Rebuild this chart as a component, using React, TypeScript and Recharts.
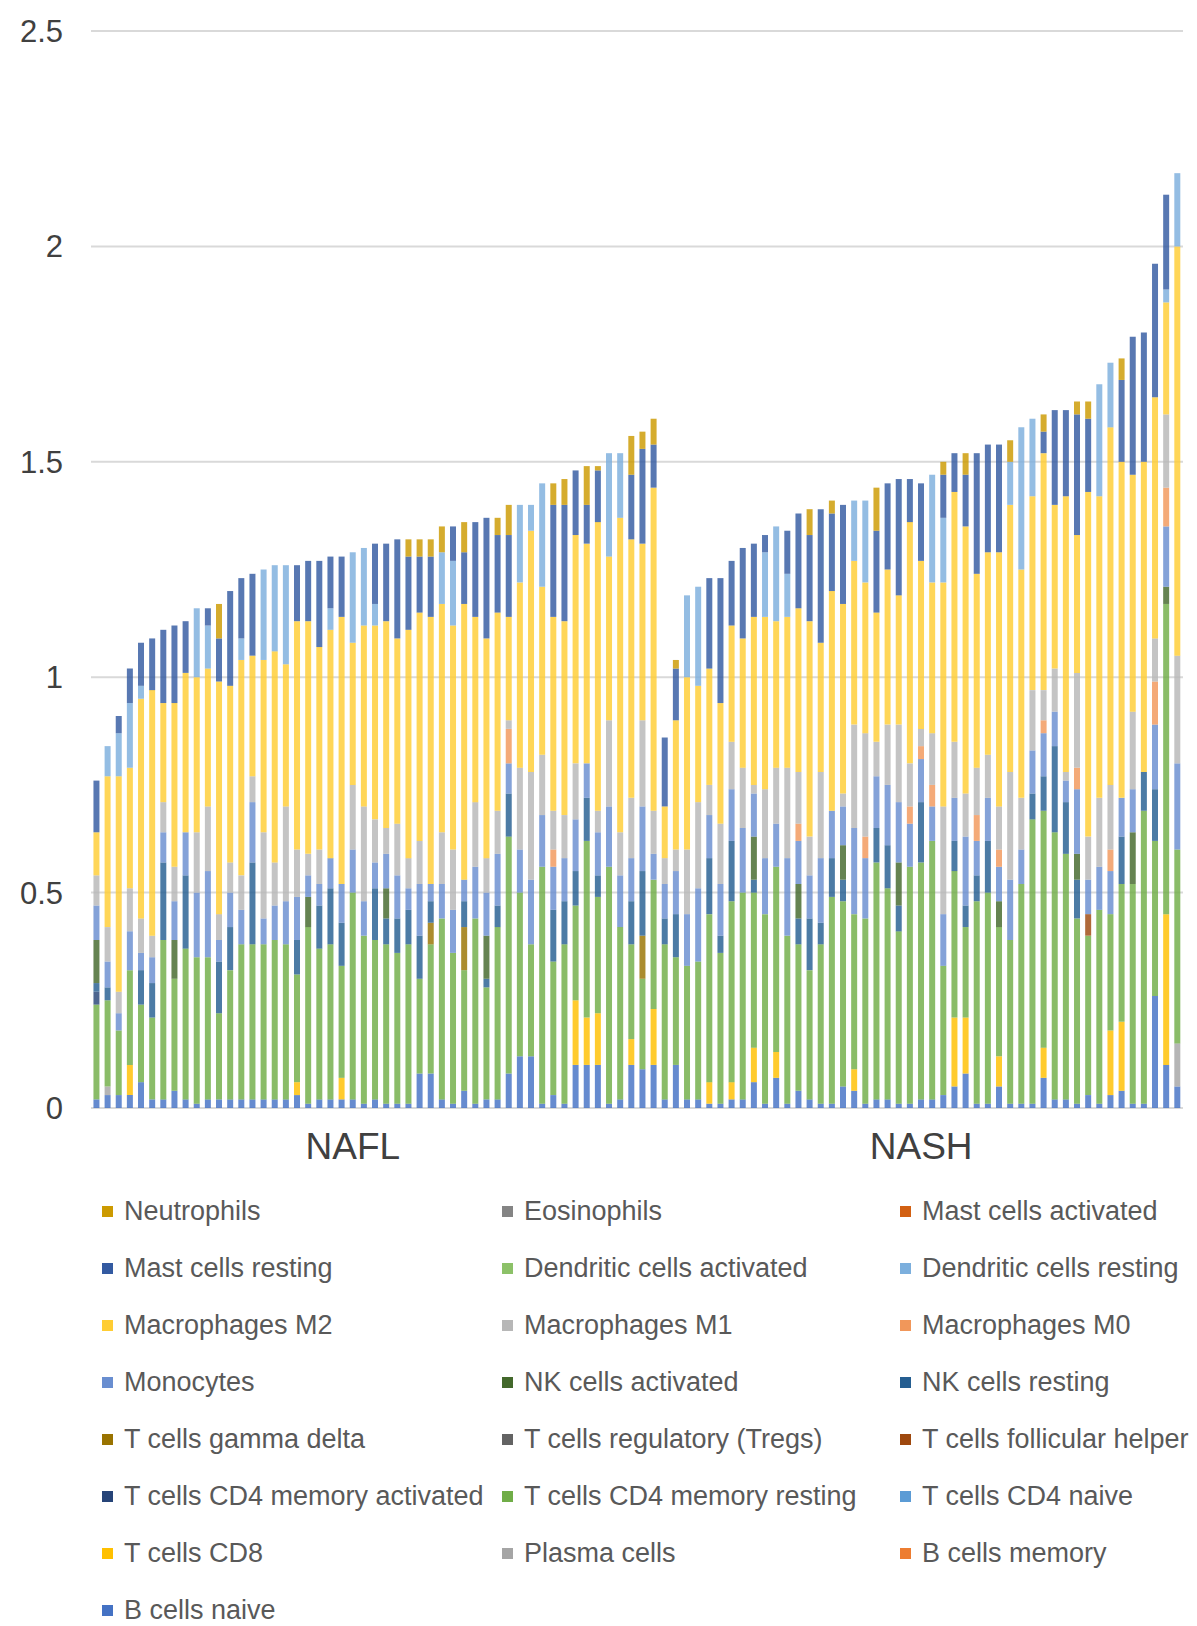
import { BarChart, Bar, XAxis, YAxis, CartesianGrid } from "recharts";

// samples: 51 NAFL then 47 NASH, each bar is one sample
const groupNames = ["NAFL", "NASH"];
const groupSizes = [51, 47];
// sample under which each group name is printed
const groupLabelAt = ["NAFL 24", "NASH 24"];
const yTicks = [0, 0.5, 1, 1.5, 2, 2.5];

// cell fractions per sample
const bCellsNaive = [
  0.02, 0.03, 0.03, 0.03, 0.06, 0.02, 0.02, 0.04, 0.02, 0.01,
  0.02, 0.02, 0.02, 0.02, 0.02, 0.02, 0.02, 0.02, 0.03, 0.01,
  0.02, 0.02, 0.02, 0.02, 0.01, 0.02, 0.01, 0.01, 0.01, 0.08,
  0.08, 0.02, 0.01, 0.04, 0.01, 0.02, 0.02, 0.08, 0.12, 0.12,
  0.01, 0.03, 0.01, 0.1, 0.1, 0.1, 0.01, 0.02, 0.1, 0.09,
  0.1, 0.02, 0.1, 0.02, 0.02, 0.01, 0.01, 0.02, 0.02, 0.06,
  0.01, 0.07, 0.01, 0.04, 0.02, 0.01, 0.01, 0.05, 0.04, 0.01,
  0.02, 0.02, 0.01, 0.01, 0.02, 0.02, 0.03, 0.05, 0.08, 0.01,
  0.01, 0.05, 0.01, 0.01, 0.01, 0.07, 0.02, 0.02, 0.01, 0.03,
  0.01, 0.03, 0.04, 0.01, 0.01, 0.26, 0.1, 0.05,
];
const bCellsMemory = [
  0, 0, 0, 0, 0, 0, 0, 0, 0, 0,
  0, 0, 0, 0, 0, 0, 0, 0, 0, 0,
  0, 0, 0, 0, 0, 0, 0, 0, 0, 0,
  0, 0, 0, 0, 0, 0, 0, 0, 0, 0,
  0, 0, 0, 0, 0, 0, 0, 0, 0, 0,
  0, 0, 0, 0, 0, 0, 0, 0, 0, 0,
  0, 0, 0, 0, 0, 0, 0, 0, 0, 0,
  0, 0, 0, 0, 0, 0, 0, 0, 0, 0,
  0, 0, 0, 0, 0, 0, 0, 0, 0, 0,
  0, 0, 0, 0, 0, 0, 0, 0,
];
const plasmaCells = [
  0, 0.02, 0, 0, 0, 0, 0, 0, 0, 0,
  0, 0, 0, 0, 0, 0, 0, 0, 0, 0,
  0, 0, 0, 0, 0, 0, 0, 0, 0, 0,
  0, 0, 0, 0, 0, 0, 0, 0, 0, 0,
  0, 0, 0, 0, 0, 0, 0, 0, 0, 0,
  0, 0, 0, 0, 0, 0, 0, 0, 0, 0,
  0, 0, 0, 0, 0, 0, 0, 0, 0, 0,
  0, 0, 0, 0, 0, 0, 0, 0, 0, 0,
  0, 0, 0, 0, 0, 0, 0, 0, 0, 0,
  0, 0, 0, 0, 0, 0, 0, 0.1,
];
const tCellsCD8 = [
  0, 0, 0, 0.07, 0, 0, 0, 0, 0, 0,
  0, 0, 0, 0, 0, 0, 0, 0, 0.03, 0,
  0, 0, 0.05, 0, 0, 0, 0, 0, 0, 0,
  0, 0, 0, 0, 0, 0, 0, 0, 0, 0,
  0, 0, 0, 0.15, 0.11, 0.12, 0, 0, 0.06, 0,
  0.13, 0, 0, 0, 0, 0.05, 0, 0.04, 0, 0.08,
  0, 0.06, 0, 0, 0, 0, 0, 0, 0.05, 0,
  0, 0, 0, 0, 0, 0, 0, 0.16, 0.13, 0,
  0, 0.07, 0, 0, 0, 0.07, 0, 0, 0, 0,
  0, 0.15, 0.16, 0, 0, 0, 0.35, 0,
];
const tCellsCD4Naive = [
  0, 0, 0, 0, 0, 0, 0, 0, 0, 0,
  0, 0, 0, 0, 0, 0, 0, 0, 0, 0,
  0, 0, 0, 0, 0, 0, 0, 0, 0, 0,
  0, 0, 0, 0, 0, 0, 0, 0, 0, 0,
  0, 0, 0, 0, 0, 0, 0, 0, 0, 0,
  0, 0, 0, 0, 0, 0, 0, 0, 0, 0,
  0, 0, 0, 0, 0, 0, 0, 0, 0, 0,
  0, 0, 0, 0, 0, 0, 0, 0, 0, 0,
  0, 0, 0, 0, 0, 0, 0, 0, 0, 0,
  0, 0, 0, 0, 0, 0, 0, 0,
];
const tCellsCD4MemResting = [
  0.22, 0.2, 0.15, 0.22, 0.18, 0.19, 0.37, 0.26, 0.35, 0.34,
  0.33, 0.2, 0.3, 0.36, 0.36, 0.36, 0.37, 0.36, 0.25, 0.41,
  0.35, 0.36, 0.26, 0.48, 0.39, 0.37, 0.37, 0.35, 0.37, 0.22,
  0.3, 0.42, 0.35, 0.28, 0.43, 0.26, 0.4, 0.55, 0.38, 0.26,
  0.55, 0.31, 0.37, 0.22, 0.41, 0.27, 0.55, 0.4, 0.22, 0.21,
  0.3, 0.36, 0.25, 0.31, 0.32, 0.39, 0.35, 0.42, 0.48, 0.36,
  0.44, 0.43, 0.39, 0.34, 0.3, 0.37, 0.48, 0.43, 0.36, 0.43,
  0.55, 0.49, 0.4, 0.55, 0.55, 0.6, 0.3, 0.34, 0.21, 0.47,
  0.49, 0.3, 0.38, 0.51, 0.66, 0.55, 0.62, 0.57, 0.43, 0.37,
  0.45, 0.27, 0.32, 0.51, 0.68, 0.36, 0.72, 0.45,
];
const tCellsCD4MemActivated = [
  0.03, 0, 0, 0, 0, 0, 0, 0, 0, 0,
  0, 0, 0, 0, 0, 0, 0, 0, 0, 0,
  0, 0, 0, 0, 0, 0, 0, 0, 0, 0,
  0, 0, 0, 0, 0, 0, 0, 0, 0, 0,
  0, 0, 0, 0, 0, 0, 0, 0, 0, 0,
  0, 0, 0, 0, 0, 0, 0, 0, 0, 0,
  0, 0, 0, 0, 0, 0, 0, 0, 0, 0,
  0, 0, 0, 0, 0, 0, 0, 0, 0, 0,
  0, 0, 0, 0, 0, 0, 0, 0, 0, 0,
  0, 0, 0, 0, 0, 0, 0, 0,
];
const tCellsFollicular = [
  0, 0, 0, 0, 0, 0, 0, 0, 0, 0,
  0, 0, 0, 0, 0, 0, 0, 0, 0, 0,
  0, 0, 0, 0, 0, 0, 0, 0, 0, 0,
  0, 0, 0, 0, 0, 0, 0, 0, 0, 0,
  0, 0, 0, 0, 0, 0, 0, 0, 0, 0,
  0, 0, 0, 0, 0, 0, 0, 0, 0, 0,
  0, 0, 0, 0, 0, 0, 0, 0, 0, 0,
  0, 0, 0, 0, 0, 0, 0, 0, 0, 0,
  0, 0, 0, 0, 0, 0, 0, 0, 0, 0.05,
  0, 0, 0, 0, 0, 0, 0, 0,
];
const tCellsTregs = [
  0, 0, 0, 0, 0, 0, 0, 0, 0, 0,
  0, 0, 0, 0, 0, 0, 0, 0, 0, 0,
  0, 0, 0, 0, 0, 0, 0, 0, 0, 0,
  0, 0, 0, 0, 0, 0, 0, 0, 0, 0,
  0, 0, 0, 0, 0, 0, 0, 0, 0, 0,
  0, 0, 0, 0, 0, 0, 0, 0, 0, 0,
  0, 0, 0, 0, 0, 0, 0, 0, 0, 0,
  0, 0, 0, 0, 0, 0, 0, 0, 0, 0,
  0, 0, 0, 0, 0, 0, 0, 0, 0, 0,
  0, 0, 0, 0, 0, 0, 0, 0,
];
const tCellsGammaDelta = [
  0, 0, 0, 0, 0, 0, 0, 0, 0, 0,
  0, 0, 0, 0, 0, 0, 0, 0, 0, 0,
  0, 0, 0, 0, 0, 0, 0, 0, 0, 0,
  0.05, 0, 0, 0.1, 0, 0, 0, 0, 0, 0,
  0, 0, 0, 0, 0, 0, 0, 0, 0, 0.1,
  0, 0, 0, 0, 0, 0, 0, 0, 0, 0,
  0, 0, 0, 0, 0, 0, 0, 0, 0, 0,
  0, 0, 0, 0, 0, 0, 0, 0, 0, 0,
  0, 0, 0, 0, 0, 0, 0, 0, 0, 0,
  0, 0, 0, 0, 0, 0, 0, 0,
];
const nkResting = [
  0.02, 0.03, 0, 0, 0.08, 0.08, 0.18, 0, 0.17, 0,
  0, 0.12, 0.1, 0, 0.19, 0, 0, 0, 0.08, 0,
  0.1, 0.13, 0.1, 0, 0, 0.12, 0.06, 0.08, 0.08, 0.1,
  0.05, 0, 0, 0.06, 0, 0.02, 0.05, 0.1, 0, 0,
  0, 0.12, 0.1, 0.08, 0.1, 0.05, 0, 0, 0.1, 0.15,
  0, 0.06, 0.1, 0, 0, 0.13, 0.04, 0.14, 0, 0.03,
  0, 0, 0, 0.06, 0.12, 0.05, 0.09, 0.05, 0, 0,
  0.08, 0.1, 0.06, 0, 0.14, 0, 0, 0.07, 0.05, 0.06,
  0.12, 0, 0, 0, 0.06, 0.08, 0.2, 0.12, 0.09, 0,
  0, 0, 0.11, 0, 0.09, 0.12, 0, 0,
];
const nkActivated = [
  0.1, 0, 0, 0, 0, 0, 0, 0.09, 0, 0,
  0, 0, 0, 0, 0, 0, 0, 0, 0, 0.07,
  0, 0, 0, 0, 0, 0, 0.07, 0, 0, 0,
  0, 0, 0, 0, 0, 0.1, 0, 0, 0, 0,
  0, 0, 0, 0, 0, 0, 0, 0, 0, 0,
  0, 0, 0, 0, 0, 0, 0, 0, 0, 0.1,
  0, 0, 0, 0.08, 0, 0, 0, 0.08, 0, 0,
  0, 0, 0.1, 0, 0, 0, 0, 0, 0, 0,
  0, 0.06, 0, 0, 0, 0, 0, 0, 0.06, 0,
  0, 0, 0, 0.12, 0, 0, 0.04, 0,
];
const monocytes = [
  0.08, 0.06, 0.04, 0.09, 0.04, 0.06, 0.07, 0.09, 0.1, 0.15,
  0.2, 0.05, 0.08, 0.08, 0.14, 0.06, 0.08, 0.1, 0.1, 0.05,
  0.05, 0.07, 0.09, 0.1, 0.08, 0.06, 0.08, 0.1, 0.05, 0.12,
  0.04, 0.08, 0.1, 0.05, 0.12, 0.1, 0.12, 0.07, 0.1, 0.15,
  0.12, 0.1, 0.1, 0.12, 0.08, 0.1, 0.14, 0.12, 0.1, 0.15,
  0.06, 0.08, 0.1, 0.12, 0.17, 0.1, 0.12, 0.12, 0.15, 0.1,
  0.13, 0.1, 0.18, 0.1, 0.1, 0.15, 0.11, 0.09, 0.2, 0.14,
  0.12, 0.14, 0.14, 0.1, 0.1, 0.08, 0.12, 0.1, 0.16, 0.08,
  0.1, 0.08, 0.14, 0.08, 0.1, 0.1, 0.08, 0.05, 0.15, 0.08,
  0.1, 0.1, 0.09, 0.1, 0, 0.15, 0.14, 0.2,
];
const macrophagesM0 = [
  0, 0, 0, 0, 0, 0, 0, 0, 0, 0,
  0, 0, 0, 0, 0, 0, 0, 0, 0, 0,
  0, 0, 0, 0, 0, 0, 0, 0, 0, 0,
  0, 0, 0, 0, 0, 0, 0, 0.08, 0, 0,
  0, 0.04, 0, 0, 0, 0, 0, 0, 0, 0,
  0, 0, 0, 0, 0, 0, 0, 0, 0, 0,
  0, 0, 0, 0.04, 0, 0, 0, 0, 0, 0.05,
  0, 0, 0, 0.04, 0.03, 0.05, 0, 0, 0, 0.06,
  0, 0.04, 0, 0, 0, 0.03, 0, 0, 0.05, 0,
  0, 0.05, 0, 0, 0, 0.1, 0.09, 0,
];
const macrophagesM1 = [
  0.07, 0.08, 0.05, 0.1, 0.08, 0.05, 0.07, 0.08, 0, 0.14,
  0.15, 0.06, 0.07, 0.08, 0.06, 0.2, 0.1, 0.22, 0.11, 0.05,
  0.08, 0, 0, 0.15, 0.22, 0.1, 0.06, 0.12, 0.07, 0.1,
  0, 0.12, 0.14, 0, 0.15, 0.08, 0.1, 0.02, 0.19, 0.25,
  0.14, 0.09, 0.1, 0.13, 0, 0.05, 0.2, 0.1, 0.14, 0.2,
  0.1, 0.06, 0.05, 0.15, 0.2, 0.07, 0.14, 0.11, 0.14, 0.02,
  0.16, 0.13, 0.21, 0.12, 0.09, 0.2, 0, 0.03, 0.24, 0.24,
  0.08, 0.14, 0.18, 0.1, 0.04, 0.12, 0.25, 0.13, 0.1, 0.11,
  0.1, 0.1, 0.25, 0.12, 0.14, 0.07, 0.1, 0.02, 0.22, 0.1,
  0.16, 0.15, 0, 0.18, 0, 0.1, 0.17, 0.25,
];
const macrophagesM2 = [
  0.1, 0.35, 0.5, 0.28, 0.51, 0.57, 0.23, 0.38, 0.37, 0.36,
  0.32, 0.54, 0.41, 0.5, 0.28, 0.4, 0.49, 0.33, 0.53, 0.54,
  0.47, 0.53, 0.62, 0.33, 0.42, 0.45, 0.48, 0.43, 0.53, 0.53,
  0.62, 0.53, 0.52, 0.64, 0.43, 0.51, 0.46, 0.24, 0.43, 0.56,
  0.39, 0.45, 0.45, 0.53, 0.51, 0.67, 0.38, 0.73, 0.6, 0.41,
  0.75, 0.12, 0.3, 0.4, 0.27, 0.27, 0.28, 0.27, 0.3, 0.39,
  0.4, 0.34, 0.35, 0.38, 0.5, 0.3, 0.51, 0.44, 0.38, 0.35,
  0.3, 0.36, 0.3, 0.56, 0.39, 0.35, 0.52, 0.58, 0.62, 0.45,
  0.47, 0.59, 0.62, 0.53, 0.45, 0.55, 0.38, 0.64, 0.32, 0.8,
  0.7, 0.83, 0.78, 0.55, 0.72, 0.56, 0.26, 0.95,
];
const dendriticResting = [
  0, 0.07, 0.1, 0.15, 0.03, 0, 0, 0, 0, 0.16,
  0.1, 0, 0, 0.05, 0, 0.21, 0.2, 0.23, 0, 0,
  0, 0.05, 0, 0.21, 0.18, 0.05, 0, 0, 0, 0,
  0, 0.12, 0.15, 0, 0, 0, 0, 0, 0.18, 0.06,
  0.24, 0, 0, 0, 0, 0, 0.24, 0.15, 0, 0,
  0, 0, 0, 0.19, 0.23, 0, 0, 0, 0, 0,
  0.15, 0.22, 0.1, 0, 0, 0, 0, 0, 0.14, 0.19,
  0, 0, 0, 0, 0, 0.25, 0.15, 0, 0, 0,
  0, 0, 0.1, 0.33, 0.18, 0, 0, 0, 0, 0,
  0.26, 0.15, 0, 0, 0, 0, 0.03, 0.17,
];
const dendriticActivated = [
  0, 0, 0, 0, 0, 0, 0, 0, 0, 0,
  0, 0, 0, 0, 0, 0, 0, 0, 0, 0,
  0, 0, 0, 0, 0, 0, 0, 0, 0, 0,
  0, 0, 0, 0, 0, 0, 0, 0, 0, 0,
  0, 0, 0, 0, 0, 0, 0, 0, 0, 0,
  0, 0, 0, 0, 0, 0, 0, 0, 0, 0,
  0, 0, 0, 0, 0, 0, 0, 0, 0, 0,
  0, 0, 0, 0, 0, 0, 0, 0, 0, 0,
  0, 0, 0, 0, 0, 0, 0, 0, 0, 0,
  0, 0, 0, 0, 0, 0, 0, 0,
];
const mastResting = [
  0.12, 0, 0.04, 0.08, 0.1, 0.12, 0.17, 0.18, 0.12, 0,
  0.04, 0.1, 0.22, 0.14, 0.19, 0, 0, 0, 0.13, 0.14,
  0.2, 0.12, 0.14, 0, 0, 0.14, 0.18, 0.23, 0.17, 0.13,
  0.14, 0, 0.08, 0.12, 0.22, 0.28, 0.18, 0.19, 0, 0,
  0, 0.26, 0.27, 0.15, 0.09, 0.12, 0, 0, 0.15, 0.22,
  0.1, 0.16, 0.12, 0, 0, 0.21, 0.29, 0.15, 0.21, 0.17,
  0.04, 0, 0.1, 0.22, 0.2, 0.31, 0.18, 0.23, 0, 0,
  0.19, 0.2, 0.27, 0.1, 0.18, 0, 0.1, 0.09, 0.12, 0.28,
  0.25, 0.25, 0, 0, 0, 0.05, 0.22, 0.2, 0.28, 0.17,
  0, 0, 0.19, 0.32, 0.3, 0.31, 0.22, 0,
];
const mastActivated = [
  0, 0, 0, 0, 0, 0, 0, 0, 0, 0,
  0, 0, 0, 0, 0, 0, 0, 0, 0, 0,
  0, 0, 0, 0, 0, 0, 0, 0, 0, 0,
  0, 0, 0, 0, 0, 0, 0, 0, 0, 0,
  0, 0, 0, 0, 0, 0, 0, 0, 0, 0,
  0, 0, 0, 0, 0, 0, 0, 0, 0, 0,
  0, 0, 0, 0, 0, 0, 0, 0, 0, 0,
  0, 0, 0, 0, 0, 0, 0, 0, 0, 0,
  0, 0, 0, 0, 0, 0, 0, 0, 0, 0,
  0, 0, 0, 0, 0, 0, 0, 0,
];
const eosinophils = [
  0, 0, 0, 0, 0, 0, 0, 0, 0, 0,
  0, 0, 0, 0, 0, 0, 0, 0, 0, 0,
  0, 0, 0, 0, 0, 0, 0, 0, 0, 0,
  0, 0, 0, 0, 0, 0, 0, 0, 0, 0,
  0, 0, 0, 0, 0, 0, 0, 0, 0, 0,
  0, 0, 0, 0, 0, 0, 0, 0, 0, 0,
  0, 0, 0, 0, 0, 0, 0, 0, 0, 0,
  0, 0, 0, 0, 0, 0, 0, 0, 0, 0,
  0, 0, 0, 0, 0, 0, 0, 0, 0, 0,
  0, 0, 0, 0, 0, 0, 0, 0,
];
const neutrophils = [
  0, 0, 0, 0, 0, 0, 0, 0, 0, 0,
  0, 0.08, 0, 0, 0, 0, 0, 0, 0, 0,
  0, 0, 0, 0, 0, 0, 0, 0, 0.04, 0.04,
  0.04, 0.06, 0, 0.07, 0, 0, 0.04, 0.07, 0, 0,
  0, 0.05, 0.06, 0, 0.09, 0.01, 0, 0, 0.09, 0.04,
  0.06, 0, 0.02, 0, 0, 0, 0, 0, 0, 0,
  0, 0, 0, 0, 0.06, 0, 0.03, 0, 0, 0,
  0.1, 0, 0, 0, 0, 0, 0.03, 0, 0.05, 0,
  0, 0, 0.05, 0, 0, 0.04, 0, 0, 0.03, 0.04,
  0, 0, 0.05, 0, 0, 0, 0, 0,
];

// stack order, bottom first
const seriesList = [
  { name: "B cells naive", color: "#4472C4", values: bCellsNaive },
  { name: "B cells memory", color: "#ED7D31", values: bCellsMemory },
  { name: "Plasma cells", color: "#A5A5A5", values: plasmaCells },
  { name: "T cells CD8", color: "#FFC000", values: tCellsCD8 },
  { name: "T cells CD4 naive", color: "#5B9BD5", values: tCellsCD4Naive },
  { name: "T cells CD4 memory resting", color: "#70AD47", values: tCellsCD4MemResting },
  { name: "T cells CD4 memory activated", color: "#264478", values: tCellsCD4MemActivated },
  { name: "T cells follicular helper", color: "#9E480E", values: tCellsFollicular },
  { name: "T cells regulatory (Tregs)", color: "#636363", values: tCellsTregs },
  { name: "T cells gamma delta", color: "#997300", values: tCellsGammaDelta },
  { name: "NK cells resting", color: "#255E91", values: nkResting },
  { name: "NK cells activated", color: "#43682B", values: nkActivated },
  { name: "Monocytes", color: "#698ED0", values: monocytes },
  { name: "Macrophages M0", color: "#F1975A", values: macrophagesM0 },
  { name: "Macrophages M1", color: "#B7B7B7", values: macrophagesM1 },
  { name: "Macrophages M2", color: "#FFCD33", values: macrophagesM2 },
  { name: "Dendritic cells resting", color: "#7CAFDD", values: dendriticResting },
  { name: "Dendritic cells activated", color: "#8CC168", values: dendriticActivated },
  { name: "Mast cells resting", color: "#335AA1", values: mastResting },
  { name: "Mast cells activated", color: "#D26012", values: mastActivated },
  { name: "Eosinophils", color: "#848484", values: eosinophils },
  { name: "Neutrophils", color: "#CC9A00", values: neutrophils },
];

const samples: string[] = [];
groupNames.forEach((g, gi) => {
  for (let k = 1; k <= groupSizes[gi]; k++) samples.push(g + " " + k);
});

const data = samples.map((name, i) => {
  const row: Record<string, number | string> = { name };
  seriesList.forEach((s) => {
    row[s.name] = s.values[i];
  });
  return row;
});

const legendItems = [...seriesList].reverse();
const legendCols = [102, 502, 900];
const font = '"Liberation Sans", Arial, sans-serif';

function Legend3() {
  return (
    <>
      {legendItems.map((s, i) => {
        const col = i % 3;
        const row = Math.floor(i / 3);
        return (
          <div
            key={s.name}
            style={{
              position: "absolute",
              left: legendCols[col],
              top: 1211 + row * 57.1 - 20,
              height: 40,
              display: "flex",
              alignItems: "center",
              whiteSpace: "nowrap",
            }}
          >
            <span style={{ width: 11, height: 11, background: s.color, marginRight: 11, display: "inline-block" }} />
            <span style={{ fontSize: 27, color: "#595959" }}>{s.name}</span>
          </div>
        );
      })}
    </>
  );
}

export default function App() {
  return (
    <div
      style={{
        position: "absolute",
        left: 0,
        top: 0,
        width: 1197,
        height: 1626,
        overflow: "hidden",
        background: "#fff",
        fontFamily: font,
      }}
    >
      <BarChart
        width={1197}
        height={1170}
        data={data}
        margin={{ top: 31, right: 14, left: 0, bottom: 0 }}
        barCategoryGap="22%"
      >
        <CartesianGrid vertical={false} stroke="#d9d9d9" strokeWidth={2} />
        <XAxis
          dataKey="name"
          ticks={groupLabelAt}
          interval={0}
          height={62}
          tickSize={0}
          tickMargin={25}
          axisLine={false}
          tickLine={false}
          tickFormatter={(v: string) => v.split(" ")[0]}
          tick={{ fill: "#404040", fontSize: 37, fontFamily: font }}
        />
        <YAxis
          domain={[0, 2.5]}
          ticks={yTicks}
          width={91}
          tickSize={0}
          tickMargin={28}
          axisLine={false}
          tickLine={false}
          tick={{ fill: "#404040", fontSize: 31, fontFamily: font }}
        />
        {seriesList.map((s) => (
          <Bar
            key={s.name}
            dataKey={s.name}
            stackId="a"
            fill={s.color}
            fillOpacity={0.82}
            isAnimationActive={false}
          />
        ))}
      </BarChart>
      <Legend3 />
    </div>
  );
}
